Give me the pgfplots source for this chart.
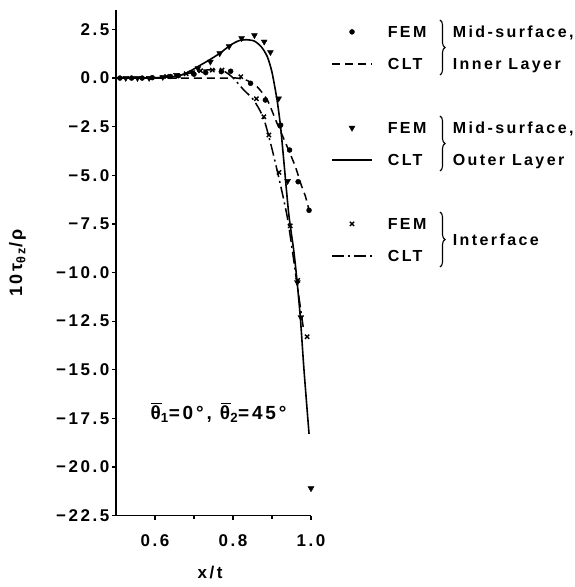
\documentclass[border=0pt]{standalone}
\usepackage{fontspec}
\setmainfont[LetterSpace=15]{Liberation Sans}
\usepackage{pgfplots}
\pgfplotsset{compat=1.18}
\usetikzlibrary{decorations.pathreplacing}

\newcommand\fs{\bfseries\fontsize{16}{19}\selectfont}
\newcommand\fst{\bfseries\fontsize{17}{20}\selectfont}
\newcommand\thbar{\rlap{\hspace{0.8pt}\rule[15pt]{10.5pt}{1.4pt}}θ}

\begin{document}
\begin{tikzpicture}
\useasboundingbox (-116pt,-71.4pt) rectangle (459pt,515.6pt);
\begin{axis}[
    at={(0pt,0pt)}, anchor=south west,
    scale only axis,
    width=195pt, height=505.6pt,
    xmin=0.5, xmax=1.0,
    ymin=-22.5, ymax=3.5,
    axis lines=left,
    axis line style={-, line width=1.5pt},
    clip=false,
    xtick={0.6,0.8,1.0},
    xticklabels={0.6,0.8,1.0},
    minor xtick={0.7,0.9},
    ytick={-22.5,-20,-17.5,-15,-12.5,-10,-7.5,-5,-2.5,0,2.5},
    yticklabels={−22.5,−20.0,−17.5,−15.0,−12.5,−10.0,−7.5,−5.0,−2.5,0.0,2.5},
    tick align=outside,
    major tick length=4pt,
    minor tick length=3pt,
    tick style={line width=1.2pt, black},
    tick label style={font=\fst},
    xticklabel style={yshift=-11pt},
    yticklabel style={xshift=1pt},
    label style={font=\fst},
    xlabel={x/t},
    ylabel={10τ\textsubscript{θz}/ρ},
    xlabel style={at={(axis description cs:0.482,-0.1135)}, anchor=center},
    ylabel style={at={(axis description cs:-0.505,0.5)}, anchor=center, font=\bfseries\fontsize{18}{21}\selectfont},
    legend style={draw=none, fill=none, font=\fs,
        at={(1.1026,0.969)}, anchor=north west,
        inner sep=0pt, row sep=20pt,
        nodes={inner sep=0pt, text height=12pt, text depth=0pt},
        /tikz/every odd column/.append style={column sep=15pt}},
    legend cell align=left,
    legend image code/.code={\draw[mark repeat=2,mark phase=2,#1] plot coordinates {(0pt,0pt) (20pt,0pt) (40pt,0pt)};},
]

% CLT curves
\addplot[black, line width=1.6pt, smooth, tension=0.4, forget plot] coordinates {
    (0.5,0.0) (0.6,0.02) (0.65,0.08) (0.68,0.25) (0.717,0.67) (0.745,1.0)
    (0.768,1.3) (0.794,1.7) (0.815,1.92) (0.835,1.97) (0.855,1.9) (0.873,1.6)
    (0.888,1.1) (0.9,0.3) (0.913,-1.13) (0.922,-2.5) (0.930,-4.2) (0.943,-7.0)
    (0.956,-8.9) (0.965,-10.6) (0.973,-12.4) (0.982,-15.0) (0.995,-18.3)
};
\addplot[black, line width=1.5pt, dash pattern=on 8pt off 5pt, smooth, tension=0.4, forget plot] coordinates {
    (0.5,0.0) (0.78,0.0) (0.81,0.0) (0.836,-0.12) (0.862,-0.45) (0.888,-1.13)
    (0.913,-2.33) (0.939,-3.53) (0.96,-4.56) (0.975,-5.5) (0.986,-6.1) (0.995,-6.8)
};
\addplot[black, line width=1.5pt, dash pattern=on 12pt off 4pt on 2pt off 4pt, smooth, tension=0.4, forget plot] coordinates {
    (0.5,0.0) (0.6,0.02) (0.65,0.1) (0.7,0.3) (0.72,0.4) (0.77,0.41) (0.798,0.05)
    (0.828,-0.62) (0.853,-1.13) (0.879,-2.1) (0.905,-4.05) (0.939,-7.13)
    (0.965,-10.7) (0.98,-12.8)
};

% FEM points
\addplot[black, only marks, mark=*, mark size=2.5pt, forget plot] coordinates {
    (0.510,0.0) (0.540,0.0) (0.567,0.0) (0.593,0.02) (0.640,0.08) (0.660,0.12)
    (0.700,0.2) (0.730,0.28) (0.770,0.33) (0.794,0.35) (0.845,-0.27) (0.883,-1.13)
    (0.922,-2.42) (0.945,-3.7) (0.967,-5.33) (0.995,-6.8)
};
\addplot[black, only marks, mark=triangle*, mark size=3.4pt, mark options={rotate=180}, forget plot] coordinates {
    (0.525,0.0) (0.555,0.0) (0.585,0.0) (0.62,0.05) (0.655,0.15) (0.695,0.3) (0.71,0.5)
    (0.742,0.84) (0.766,1.27) (0.79,1.63) (0.822,2.05) (0.855,2.2) (0.88,1.87)
    (0.896,1.33) (0.917,-1.05) (0.921,-2.45) (0.940,-5.3) (0.965,-10.5)
    (0.974,-12.3) (1.0,-21.1)
};
\addplot[black, only marks, mark=x, mark size=3pt, line width=1.4pt, forget plot] coordinates {
    (0.63,0.08) (0.68,0.22) (0.717,0.38) (0.747,0.41) (0.772,0.41) (0.82,0.07)
    (0.86,-1.06) (0.879,-1.99) (0.892,-2.93) (0.918,-4.85) (0.947,-7.6)
    (0.966,-10.4) (0.99,-13.3)
};

% legend
\addlegendimage{black, only marks, mark=*, mark size=2.5pt}
\addlegendentry{FEM}
\addlegendimage{black, line width=1.5pt, dash pattern=on 8pt off 5pt}
\addlegendentry{CLT}
\addlegendimage{empty legend}
\addlegendentry{}
\addlegendimage{black, only marks, mark=triangle*, mark size=3.4pt, mark options={rotate=180}}
\addlegendentry{FEM}
\addlegendimage{black, line width=1.6pt}
\addlegendentry{CLT}
\addlegendimage{empty legend}
\addlegendentry{}
\addlegendimage{black, only marks, mark=x, mark size=3pt, line width=1.4pt}
\addlegendentry{FEM}
\addlegendimage{black, line width=1.5pt, dash pattern=on 12pt off 4pt on 2pt off 4pt}
\addlegendentry{CLT}

\node[font=\bfseries\fontsize{19}{22}\selectfont] at (axis cs:0.763,-17.2)
    {\thbar\textsubscript{1}=0°, \thbar\textsubscript{2}=45°};
\end{axis}

% braces and group labels of the legend
\begin{scope}[line width=1.1pt]
\draw[decorate, decoration={brace, amplitude=5pt}] (324pt,495.6pt) -- (324pt,440.6pt);
\draw[decorate, decoration={brace, amplitude=5pt}] (324pt,399.6pt) -- (324pt,344.6pt);
\draw[decorate, decoration={brace, amplitude=5pt}] (324pt,303.6pt) -- (324pt,248.6pt);
\end{scope}
\begin{scope}[every node/.style={anchor=west, inner sep=0pt, text height=12pt, text depth=0pt, font=\fs}]
\node at (336.7pt,483.9pt) {Mid-surface,};
\node at (336.7pt,451.9pt) {Inner Layer};
\node at (336.7pt,387.9pt) {Mid-surface,};
\node at (336.7pt,355.9pt) {Outer Layer};
\node at (336.7pt,275.9pt) {Interface};
\end{scope}
\end{tikzpicture}
\end{document}
